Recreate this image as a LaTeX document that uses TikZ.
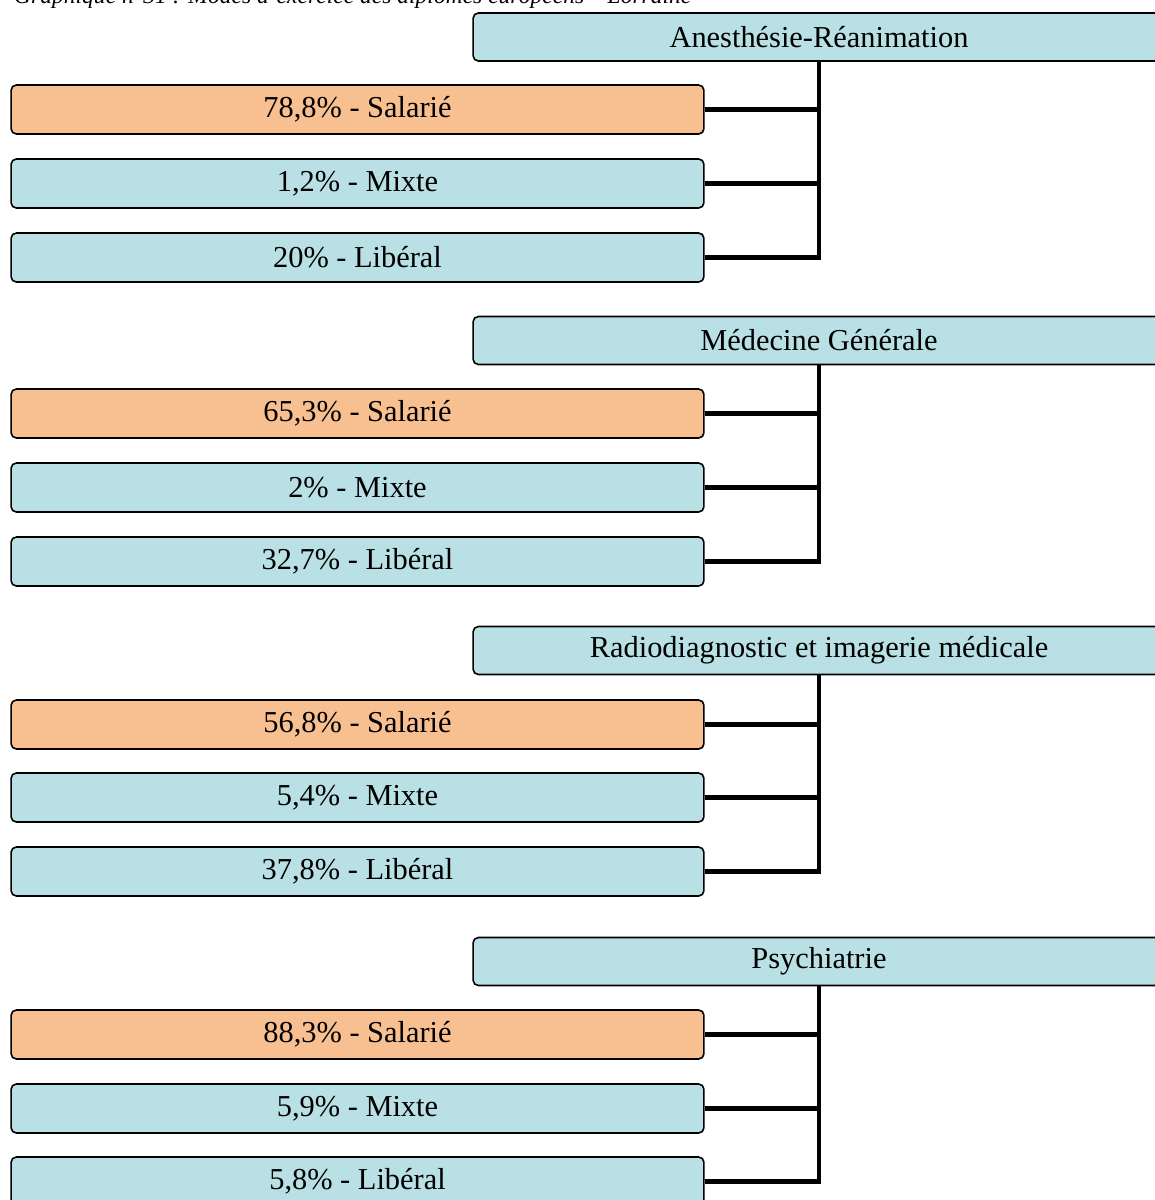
\documentclass[tikz,border=0pt]{standalone}
\usepackage{fontspec}
\setmainfont{Liberation Serif}
\usepackage{tikz}
\usetikzlibrary{positioning}
\definecolor{BoxBlue}{RGB}{185,224,228}
\definecolor{BoxOrange}{RGB}{248,192,144}

\begin{document}
\begin{tikzpicture}[
 x=0.02cm, y=-0.02cm,
 head/.style={draw, rounded corners=3pt, fill=BoxBlue, minimum width=13.84cm, minimum height=0.96cm, inner sep=0pt, line width=0.9pt},
 leaf/.style={draw, rounded corners=3pt, fill=BoxBlue, minimum width=13.86cm, minimum height=0.98cm, inner sep=0pt, line width=0.9pt},
 main/.style={leaf, fill=BoxOrange},
 link/.style={line width=2.7pt},
 font=\fontsize{17.3}{20}\selectfont
]
\useasboundingbox (0,0) rectangle (1155,1200);
\node[anchor=base west, font=\fontsize{13.4}{16}\selectfont\itshape] (caption) at (8,3.5) {Graphique n°31 : Modes d'exercice des diplômes européens – Lorraine};

% Anesthesie
\node[head] (anes) at (819,37) {Anesthésie-Réanimation};
\node[main] (anesSal) at (357.5,109.5) {78,8\% - Salarié};
\node[leaf] (anesMix) at (357.5,183.5) {1,2\% - Mixte};
\node[leaf] (anesLib) at (357.5,257.5) {20\% - Libéral};

% Medecine generale
\node[head] (medg) at (819,340.5) {Médecine Générale};
\node[main] (medgSal) at (357.5,413.5) {65,3\% - Salarié};
\node[leaf] (medgMix) at (357.5,487.5) {2\% - Mixte};
\node[leaf] (medgLib) at (357.5,561.5) {32,7\% - Libéral};

% Radiodiagnostic
\node[head] (radio) at (819,650.5) {Radiodiagnostic et imagerie médicale};
\node[main] (radioSal) at (357.5,724.5) {56,8\% - Salarié};
\node[leaf] (radioMix) at (357.5,797.5) {5,4\% - Mixte};
\node[leaf] (radioLib) at (357.5,871.5) {37,8\% - Libéral};

% Psychiatrie
\node[head] (psy) at (819,961.5) {Psychiatrie};
\node[main] (psySal) at (357.5,1034.5) {88,3\% - Salarié};
\node[leaf] (psyMix) at (357.5,1108.5) {5,9\% - Mixte};
\node[leaf] (psyLib) at (357.5,1181.5) {5,8\% - Libéral};

\foreach \g in {anes,medg,radio,psy}
  \foreach \m in {Sal,Mix,Lib}
    \draw[link] (\g\m.east) -| (\g.south);
\end{tikzpicture}
\end{document}
